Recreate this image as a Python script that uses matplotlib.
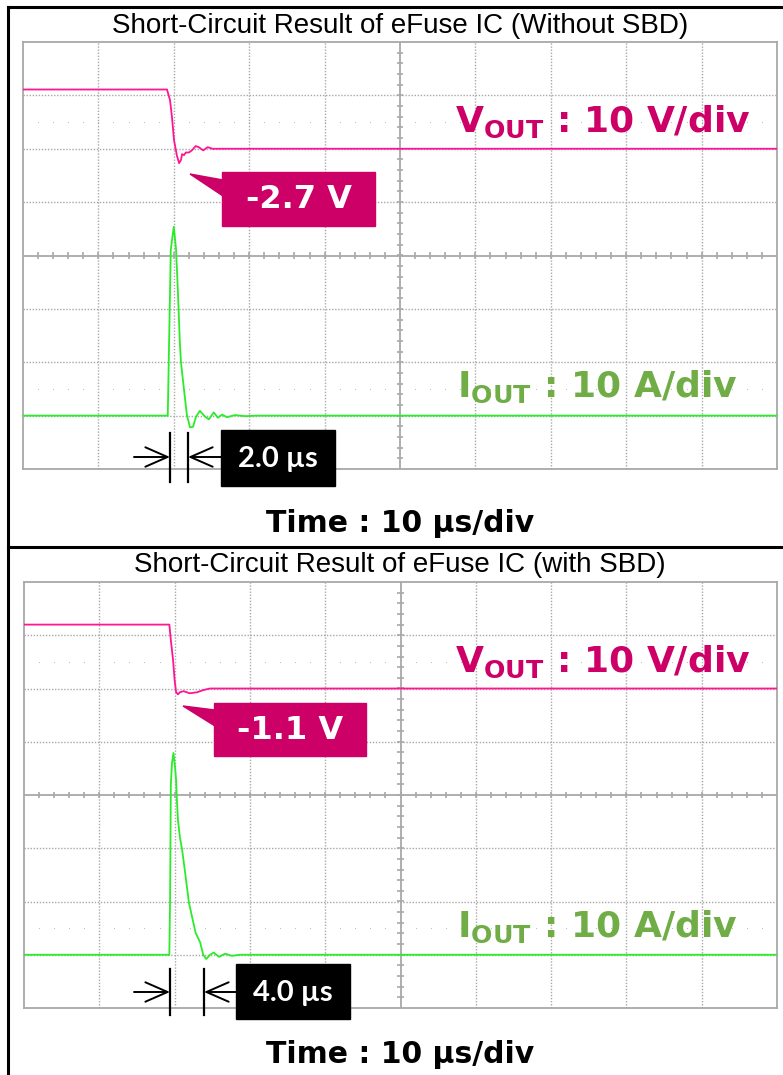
import numpy as np
import matplotlib.pyplot as plt
from matplotlib.transforms import Affine2D
from matplotlib.patches import Rectangle, Polygon, FancyArrowPatch
from matplotlib.lines import Line2D

W, H = 783, 1075

# 10 us/div, 10 V/div, 10 A/div
titles = ["Short-Circuit Result of eFuse IC (Without SBD)",
          "Short-Circuit Result of eFuse IC (with SBD)"]
vout_peaks = ["-2.7 V", "-1.1 V"]
delays = ["2.0 µs", "4.0 µs"]

# 短絡試験 1: SBDなし
t_v1 = [0, 19.1, 19.5, 19.76, 20.03, 20.4, 20.7, 20.95, 21.1, 21.35, 21.6, 22.0,
        22.4, 22.9, 23.3, 23.9, 24.5, 25.1, 100]
v1 = [11.1, 11.1, 9.1, 5.9, 1.6, -1.2, -2.7, -2.1, -1.0, -1.2, -0.7, -0.7,
      -0.3, 0.5, 0.3, -0.3, 0.3, 0.0, 0.0]
t_i1 = [0, 19.2, 19.4, 19.6, 20.0, 20.3, 20.55, 20.8, 20.95, 21.2, 21.5, 21.75,
        22.15, 22.55, 22.95, 23.45, 24.15, 24.65, 25.3, 25.85, 26.4, 27.05,
        28.1, 29.5, 31.0, 100]
i1 = [0, 0, 15.6, 31.1, 35.4, 31.1, 23.1, 13.7, 10.0, 6.8, 3.0, 0.0,
      -2.2, -2.1, -0.2, 0.9, -0.2, -0.7, 0.6, -0.4, 0.2, -0.3,
      0.1, -0.1, 0.0, 0.0]

# 短絡試験 2: SBDあり
t_v2 = [0, 19.3, 19.5, 19.8, 20.0, 20.2, 20.45, 20.7, 21.2, 22.0, 23.0, 23.8,
        24.7, 100]
v2 = [12.0, 12.0, 9.1, 5.3, 1.6, -0.7, -1.1, -0.7, -0.5, -0.9, -0.7, -0.3,
      0.0, 0.0]
t_i2 = [0, 19.3, 19.4, 19.5, 19.65, 19.85, 20.05, 20.2, 20.3, 20.45, 20.7, 21.0,
        21.4, 21.9, 22.4, 22.8, 23.4, 23.8, 24.2, 24.7, 25.2, 25.9, 26.7,
        27.6, 28.7, 100]
i2 = [0, 0, 10.3, 31.9, 36.0, 37.9, 35.3, 32.8, 29.1, 25.3, 22.1, 19.7,
      15.4, 9.8, 6.6, 4.1, 2.3, 0.0, -0.8, 0.0, 0.4, -0.4, 0.2,
      -0.2, 0.0, 0.0]

traces = [(t_v1, v1, t_i1, i1), (t_v2, v2, t_i2, i2)]

V_POS = 2.0    # div, VOUT ground
I_POS = -3.0   # div, IOUT ground
MAG = "#FF1493"
GRN = "#2BEB2B"
MAG_TXT = "#CC0066"
GRN_TXT = "#70AD47"
GRID = "#A8A8A8"

fig = plt.figure(figsize=(W / 100, H / 100), dpi=100)
T = Affine2D().scale(1 / W, -1 / H).translate(0, 1) + fig.transFigure


def graticule(ax):
    ax.set_xlim(0, 100)
    ax.set_ylim(-4, 4)
    ax.set_xticks([])
    ax.set_yticks([])
    for s in ax.spines.values():
        s.set_color(GRID)
        s.set_linewidth(1.3)
    for x in range(10, 100, 10):
        if x == 50:
            continue
        ax.axvline(x, color=GRID, lw=1.0, ls=(0, (1, 1.2)), zorder=1)
    for y in range(-3, 4):
        if y == 0:
            continue
        ax.axhline(y, color=GRID, lw=1.0, ls=(0, (1, 1.2)), zorder=1)
    ax.axvline(50, color=GRID, lw=1.3, zorder=1)
    ax.axhline(0, color=GRID, lw=1.3, zorder=1)
    xs = np.arange(2, 100, 2)
    ys = np.arange(-3.8, 4, 0.2)
    ax.vlines(xs, -0.06, 0.06, color=GRID, lw=1.2, zorder=1)
    ax.hlines(ys, 49.6, 50.4, color=GRID, lw=1.2, zorder=1)
    for y in (2.5, -2.5):
        ax.plot(xs, np.full_like(xs, y, dtype=float), ls="none", marker="s",
                ms=0.7, mew=0, color="#BDBDBD", zorder=1)


axes_px = [(23, 42, 777, 469), (24, 582, 777, 1008)]
for k, (l, t, r, b) in enumerate(axes_px):
    ax = fig.add_axes([l / W, 1 - b / H, (r - l) / W, (b - t) / H])
    graticule(ax)
    tv, vv, ti, ii = traces[k]
    ax.plot(tv, np.array(vv) / 10 + V_POS, color=MAG, lw=1.3, zorder=3)
    ax.plot(ti, np.array(ii) / 10 + I_POS, color=GRN, lw=1.3, zorder=3)

dy = [0, 540]

# 枠線
fig.add_artist(Line2D([8, 8], [7, 1075], color="black", lw=2.2, transform=T))
fig.add_artist(Line2D([8, 783], [7, 7], color="black", lw=2.2, transform=T))
fig.add_artist(Line2D([8, 783], [547, 547], color="black", lw=2.2, transform=T))

for k in range(2):
    o = dy[k]
    fig.text(400, 33 + o - (1 if k else 0), titles[k], transform=T, ha="center",
             va="baseline", fontsize=20, family="Liberation Sans")
    fig.text(400, 532 + o - (9 if k else 0), "Time : 10 µs/div", transform=T,
             ha="center", va="baseline", fontsize=21.5, fontweight="bold")
    fig.text(455, 132 + o, r"$\mathbf{V_{OUT}}$ : 10 V/div", transform=T,
             ha="left", va="baseline", fontsize=26, fontweight="bold",
             color=MAG_TXT)
    fig.text(457, 398 + o - 1, r"$\mathbf{I_{OUT}}$ : 10 A/div", transform=T,
             ha="left", va="baseline", fontsize=26, fontweight="bold",
             color=GRN_TXT)

# 吹き出し (VOUT 最小値)
callouts = [((222, 172, 375, 226), (190, 174), (180, 196)),
            ((214, 703, 366, 756), (183, 706), (710, 726))]
for k, ((x0, y0, x1, y1), tip, (b0, b1)) in enumerate(callouts):
    fig.add_artist(Rectangle((x0, y0), x1 - x0, y1 - y0, color=MAG_TXT,
                             transform=T, zorder=5))
    fig.add_artist(Polygon([tip, (x0 + 1, b0), (x0 + 1, b1)], closed=True,
                           color=MAG_TXT, transform=T, zorder=5))
    fig.text((x0 + x1) / 2, (y0 + y1) / 2 + 1, vout_peaks[k], transform=T,
             ha="center", va="center", fontsize=23, fontweight="bold",
             color="white", zorder=6)

# 遅延時間の矢印
delay_marks = [(170, 188, 433, 482, 457, (221, 430, 335, 486)),
               (170, 204, 969, 1015, 992, (236, 964, 350, 1019))]
for k, (xa, xb, ya, yb, ym, (x0, y0, x1, y1)) in enumerate(delay_marks):
    for x in (xa, xb):
        fig.add_artist(Line2D([x, x], [ya, yb], color="black", lw=1.6,
                              transform=T, zorder=5))
    fig.add_artist(FancyArrowPatch((134, ym), (xa, ym), transform=T,
                                   arrowstyle="->,head_length=0.8,head_width=0.35",
                                   mutation_scale=20, lw=1.4, color="black",
                                   shrinkA=0, shrinkB=0, zorder=5))
    fig.add_artist(FancyArrowPatch((x0, ym), (xb, ym), transform=T,
                                   arrowstyle="->,head_length=0.8,head_width=0.35",
                                   mutation_scale=20, lw=1.4, color="black",
                                   shrinkA=0, shrinkB=0, zorder=5))
    fig.add_artist(Rectangle((x0, y0), x1 - x0, y1 - y0, color="black",
                             transform=T, zorder=5))
    fig.text((x0 + x1) / 2, (y0 + y1) / 2 + 1, delays[k], transform=T,
             ha="center", va="center", fontsize=21, fontweight="bold",
             family="Lato", color="white", zorder=6)

fig.savefig("out.png", dpi=100)
